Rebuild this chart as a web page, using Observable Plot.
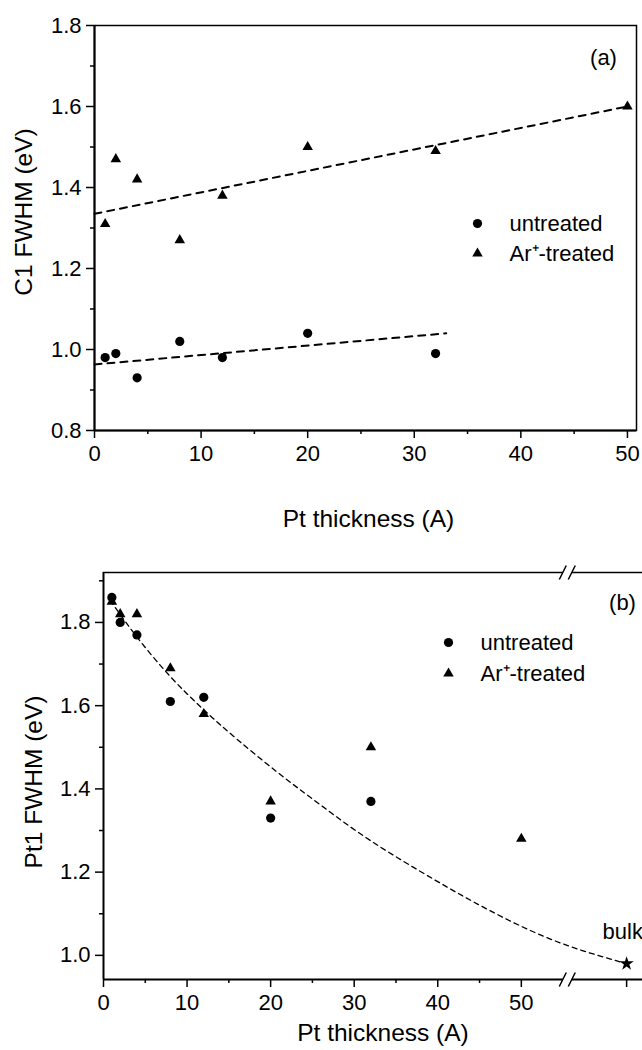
<!DOCTYPE html>
<html><head><meta charset="utf-8">
<script src="https://cdn.jsdelivr.net/npm/d3@7"></script>
<script src="https://cdn.jsdelivr.net/npm/@observablehq/plot@0.6"></script>
<style>html,body{margin:0;padding:0;background:#fff;overflow:hidden} svg{display:block}</style>
</head><body><div id="chart"></div>
<script>
// ---------- Panel (a): C1 FWHM ----------
const aUntreatedX = [1, 2, 4, 8, 12, 20, 32];
const aUntreatedY = [0.98, 0.99, 0.93, 1.02, 0.98, 1.04, 0.99];
const aTreatedX = [1, 2, 4, 8, 12, 20, 32, 50];
const aTreatedY = [1.31, 1.47, 1.42, 1.27, 1.38, 1.50, 1.49, 1.60];
const aFitTreatedX = [0, 50];
const aFitTreatedY = [1.335, 1.60];
const aFitUntreatedX = [0, 33];
const aFitUntreatedY = [0.963, 1.04];
const aXDomain = [0, 50.85];
const aYDomain = [0.8, 1.8];
const aXTicks = [0, 10, 20, 30, 40, 50];
const aXMinor = [5, 15, 25, 35, 45];
const aYTicks = [0.8, 1.0, 1.2, 1.4, 1.6, 1.8];
const aYMinor = [0.9, 1.1, 1.3, 1.5, 1.7];

// ---------- Panel (b): Pt1 FWHM ----------
const bUntreatedX = [1, 2, 4, 8, 12, 20, 32];
const bUntreatedY = [1.86, 1.80, 1.77, 1.61, 1.62, 1.33, 1.37];
const bTreatedX = [1, 2, 4, 8, 12, 20, 32, 50];
const bTreatedY = [1.85, 1.82, 1.82, 1.69, 1.58, 1.37, 1.50, 1.28];
const bBulkX = [62.6];
const bBulkY = [0.98];
const bCurveX = [0.8, 4, 8, 12, 16, 21, 26, 32, 39.5, 46, 54, 62.6];
const bCurveY = [1.853, 1.765, 1.67, 1.59, 1.519, 1.437, 1.361, 1.275, 1.183, 1.11, 1.035, 0.98];
const bBreakX = [55.5];
const bXDomain = [0, 64.5];
const bYDomain = [0.942, 1.92];
const bXTicks = [0, 10, 20, 30, 40, 50];
const bXMinor = [5, 15, 25, 35, 45];
const bYTicks = [1.0, 1.2, 1.4, 1.6, 1.8];
const bYMinor = [1.1, 1.3, 1.5, 1.7, 1.9];

const labels = {untreated: "untreated", treated: "Ar\u207A-treated", bulk: "bulk",
  xTitle: "Pt thickness (A)", aYTitle: "C1 FWHM (eV)", bYTitle: "Pt1 FWHM (eV)", a: "(a)", b: "(b)"};

const font = "'Liberation Sans', Arial, Helvetica, sans-serif";
const zip = (xs, ys) => xs.map((x, i) => ({x, y: ys[i]}));
const fmt1 = d3.format(".1f");

const slashSymbol = {draw(ctx) { ctx.moveTo(-8, 7); ctx.lineTo(-1, -7); ctx.moveTo(1, 7); ctx.lineTo(8, -7); }};
const gapSymbol = {draw(ctx) { ctx.rect(-4.5, -2.5, 9, 5); }};

const a = Plot.plot({
  width: 642, height: 540,
  marginTop: 25, marginBottom: 110, marginLeft: 94, marginRight: 6,
  style: {fontFamily: font, fontSize: "22px", color: "black", background: "white", overflow: "visible"},
  x: {domain: aXDomain},
  y: {domain: aYDomain},
  marks: [
    Plot.frame({stroke: "black", strokeWidth: 1.5}),
    Plot.ruleX([aXDomain[0]], {stroke: "black", strokeWidth: 2}),
    Plot.ruleY([aYDomain[0]], {stroke: "black", strokeWidth: 2}),
    Plot.axisX(aXTicks, {tickSize: 8, tickPadding: 7, strokeWidth: 1.5, label: null, tickFormat: d => String(d)}),
    Plot.axisX(aXMinor, {tickSize: 4, text: null, label: null, strokeWidth: 1.5}),
    Plot.axisY(aYTicks, {tickSize: 8, tickPadding: 5, strokeWidth: 1.5, label: null, tickFormat: fmt1}),
    Plot.axisY(aYMinor, {tickSize: 4, text: null, label: null, strokeWidth: 1.5}),
    Plot.line(zip(aFitTreatedX, aFitTreatedY), {x: "x", y: "y", stroke: "black", strokeWidth: 2, strokeDasharray: "7,6"}),
    Plot.line(zip(aFitUntreatedX, aFitUntreatedY), {x: "x", y: "y", stroke: "black", strokeWidth: 2, strokeDasharray: "7,6"}),
    Plot.dot(zip(aUntreatedX, aUntreatedY), {x: "x", y: "y", r: 4.6, fill: "black"}),
    Plot.dot(zip(aTreatedX, aTreatedY), {x: "x", y: "y", r: 3.9, symbol: "triangle", fill: "black"}),
    // legend
    Plot.dot([labels.untreated], {frameAnchor: "top-left", dx: 383, dy: 198, r: 4.6, fill: "black"}),
    Plot.dot([labels.treated], {frameAnchor: "top-left", dx: 383, dy: 228, r: 3.9, symbol: "triangle", fill: "black"}),
    Plot.text([labels.untreated], {frameAnchor: "top-left", dx: 415, dy: 198, textAnchor: "start", lineAnchor: "middle", fontSize: 22}),
    Plot.text([labels.treated], {frameAnchor: "top-left", dx: 415, dy: 228, textAnchor: "start", lineAnchor: "middle", fontSize: 22}),
    Plot.text([labels.a], {frameAnchor: "top-right", dx: -33, dy: 32, textAnchor: "middle", lineAnchor: "middle", fontSize: 22}),
    // axis titles
    Plot.text([labels.xTitle], {frameAnchor: "bottom", dx: 3, dy: 89, textAnchor: "middle", lineAnchor: "middle", fontSize: 24.5}),
    Plot.text([labels.aYTitle], {frameAnchor: "left", rotate: -90, dx: -70, dy: -16, textAnchor: "middle", lineAnchor: "middle", fontSize: 24.5})
  ]
});

const b = Plot.plot({
  width: 642, height: 510,
  marginTop: 32, marginBottom: 71, marginLeft: 103, marginRight: 0,
  style: {fontFamily: font, fontSize: "22px", color: "black", background: "white", overflow: "visible"},
  x: {domain: bXDomain},
  y: {domain: bYDomain},
  marks: [
    Plot.ruleY([bYDomain[1]], {stroke: "black", strokeWidth: 1.5}),
    Plot.ruleY([bYDomain[0]], {stroke: "black", strokeWidth: 2}),
    Plot.ruleX([bXDomain[0]], {stroke: "black", strokeWidth: 2}),
    Plot.axisX(bXTicks, {tickSize: 8, tickPadding: 7, strokeWidth: 1.5, label: null, tickFormat: d => String(d)}),
    Plot.axisX(bXMinor, {tickSize: 4, text: null, label: null, strokeWidth: 1.5}),
    Plot.axisX(bBulkX, {tickSize: 8, text: null, label: null, strokeWidth: 1.5}),
    Plot.axisY(bYTicks, {tickSize: 8, tickPadding: 5, strokeWidth: 1.5, label: null, tickFormat: fmt1}),
    Plot.axisY(bYMinor, {tickSize: 4, text: null, label: null, strokeWidth: 1.5}),
    // axis break marks
    Plot.dot(bBreakX, {x: d => d, frameAnchor: "top", r: 5, symbol: gapSymbol, fill: "white", stroke: "none"}),
    Plot.dot(bBreakX, {x: d => d, frameAnchor: "top", r: 5, symbol: slashSymbol, fill: "none", stroke: "black", strokeWidth: 1.5}),
    Plot.dot(bBreakX, {x: d => d, frameAnchor: "bottom", r: 5, symbol: gapSymbol, fill: "white", stroke: "none"}),
    Plot.dot(bBreakX, {x: d => d, frameAnchor: "bottom", r: 5, symbol: slashSymbol, fill: "none", stroke: "black", strokeWidth: 1.5}),
    // curve and data
    Plot.line(zip(bCurveX, bCurveY), {x: "x", y: "y", stroke: "black", strokeWidth: 1.3, strokeDasharray: "5,4", curve: "natural"}),
    Plot.dot(zip(bUntreatedX, bUntreatedY), {x: "x", y: "y", r: 4.6, fill: "black"}),
    Plot.dot(zip(bTreatedX, bTreatedY), {x: "x", y: "y", r: 3.9, symbol: "triangle", fill: "black"}),
    Plot.dot(zip(bBulkX, bBulkY), {x: "x", y: "y", r: 4.5, symbol: "star", fill: "black"}),
    Plot.text(zip(bBulkX, bBulkY), {x: "x", y: "y", text: () => labels.bulk, dx: -24, dy: -32, textAnchor: "start", lineAnchor: "middle", fontSize: 22}),
    // legend
    Plot.dot([labels.untreated], {frameAnchor: "top-left", dx: 345, dy: 70, r: 4.6, fill: "black"}),
    Plot.dot([labels.treated], {frameAnchor: "top-left", dx: 345, dy: 101, r: 3.9, symbol: "triangle", fill: "black"}),
    Plot.text([labels.untreated], {frameAnchor: "top-left", dx: 377, dy: 70, textAnchor: "start", lineAnchor: "middle", fontSize: 22}),
    Plot.text([labels.treated], {frameAnchor: "top-left", dx: 377, dy: 101, textAnchor: "start", lineAnchor: "middle", fontSize: 22}),
    Plot.text([labels.b], {frameAnchor: "top-left", dx: 519, dy: 30, textAnchor: "middle", lineAnchor: "middle", fontSize: 22}),
    // axis titles
    Plot.text([labels.xTitle], {frameAnchor: "bottom", dx: 10, dy: 54, textAnchor: "middle", lineAnchor: "middle", fontSize: 24.5}),
    Plot.text([labels.bYTitle], {frameAnchor: "left", rotate: -90, dx: -69, dy: 6, textAnchor: "middle", lineAnchor: "middle", fontSize: 24.5})
  ]
});

const chart = document.getElementById("chart");
chart.append(a, b);
</script>
</body></html>
